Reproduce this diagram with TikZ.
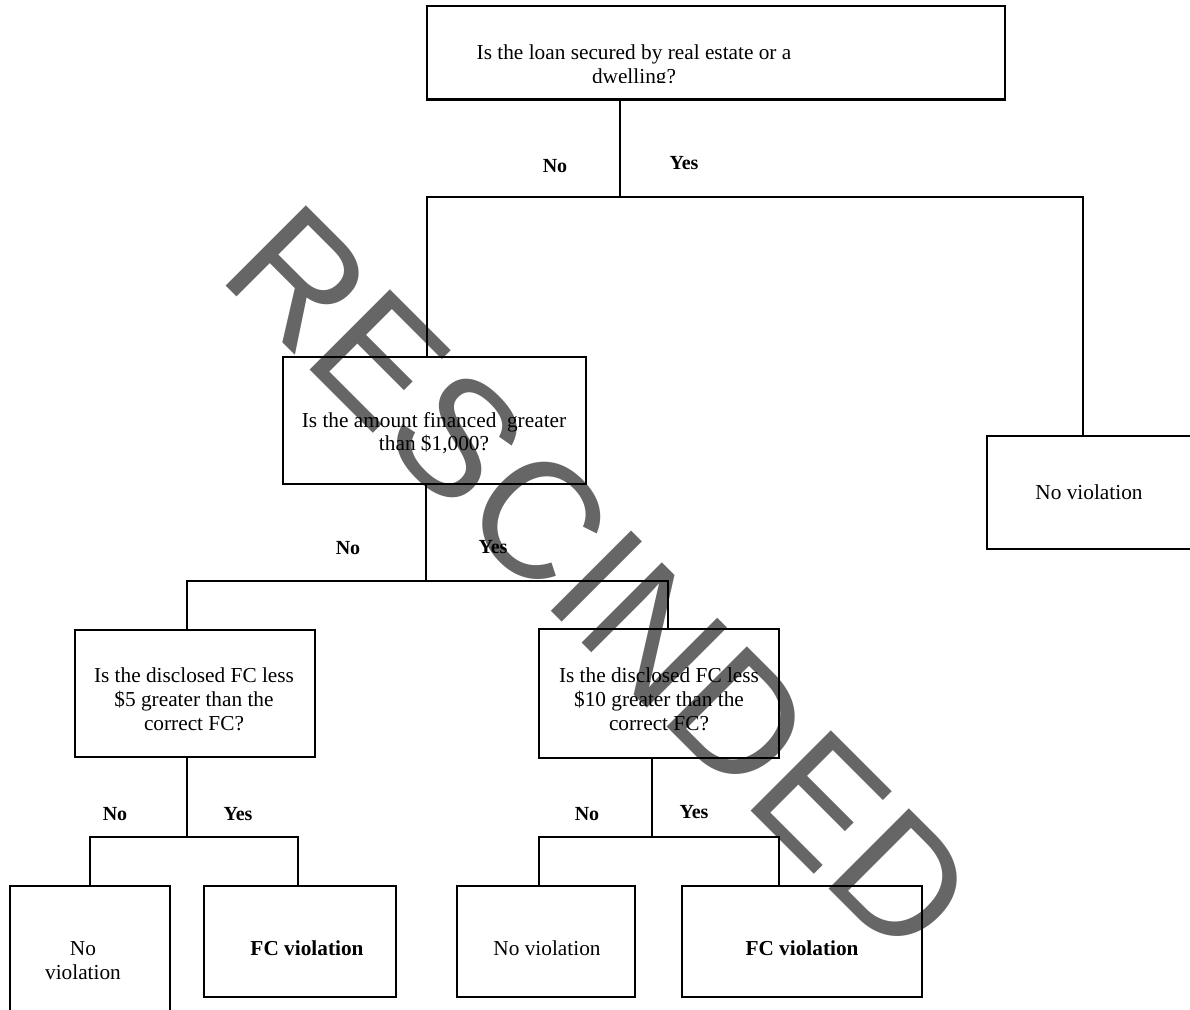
\documentclass[tikz,border=0pt]{standalone}
\usepackage{fontspec}
\setmainfont{Liberation Serif}
\newfontfamily\wmfont{Liberation Sans}
\definecolor{wmgray}{RGB}{102,102,102}
\begin{document}
\begin{tikzpicture}[x=1pt,y=-1pt,
  box/.style={draw, line width=2.1pt, inner sep=0pt},
  txt/.style={inner sep=0pt, align=center, font=\fontsize{21.3}{24}\selectfont},
  btxt/.style={inner sep=0pt, align=center, font=\bfseries\fontsize{21.3}{24}\selectfont},
  lbl/.style={inner sep=0pt, font=\bfseries\fontsize{20}{24}\selectfont},
  conn/.style={line width=1.8pt},
  wm/.style={inner sep=0pt, rotate=-45, text=wmgray, font=\wmfont\fontsize{165}{165}\selectfont}]
\useasboundingbox (0,0) rectangle (1190,1009);

% watermark
\node[wm] (wmk) at (600,580) {RESCINDED};

% boxes
\node[box, minimum width=578pt, minimum height=93.5pt] (q1) at (716,52.75) {};
\node[box, minimum width=303pt, minimum height=127pt] (q2) at (434.5,420.5) {};
\node[box, minimum width=205pt, minimum height=113pt] (r1) at (1089.5,492.5) {};
\node[box, minimum width=240pt, minimum height=127.5pt] (q3) at (195,693.5) {};
\node[box, minimum width=240pt, minimum height=128.5pt] (q4) at (659,693.5) {};
\node[box, minimum width=160pt, minimum height=126pt] (r2) at (90,949) {};
\node[box, minimum width=192pt, minimum height=111pt] (r3) at (300,941.5) {};
\node[box, minimum width=178pt, minimum height=111pt] (r4) at (546,941.5) {};
\node[box, minimum width=240pt, minimum height=111pt] (r5) at (802,941.5) {};

% texts
\begin{scope}
\clip (430,8) rectangle (1000,82);
\node[txt] (q1t) at (634,66) {Is the loan secured by real estate or a\\dwelling?};
\end{scope}
\node[txt, font=\fontsize{21.3}{23}\selectfont] (q2t) at (434,433.5) {Is the amount financed\ \ greater\\than \$1,000?};
\node[txt] (r1t) at (1089,492) {No violation};
\node[txt] (q3t) at (194,699) {Is the disclosed FC less\\\$5 greater than the\\correct FC?};
\node[txt] (q4t) at (659,699) {Is the disclosed FC less\\\$10 greater than the\\correct FC?};
\node[txt] (r2t) at (83,961) {No\\violation};
\node[btxt] (r3t) at (307,948) {FC violation};
\node[txt] (r4t) at (547,948) {No violation};
\node[btxt] (r5t) at (802,948) {FC violation};

% labels
\node[lbl] (l1n) at (555,166) {No};
\node[lbl] (l1y) at (684,163) {Yes};
\node[lbl] (l2n) at (348,548) {No};
\node[lbl] (l2y) at (493,547) {Yes};
\node[lbl] (l3n) at (115,814) {No};
\node[lbl] (l3y) at (238,814) {Yes};
\node[lbl] (l4n) at (587,814) {No};
\node[lbl] (l4y) at (694,812) {Yes};

% junctions
\coordinate (j1) at (620,197);
\coordinate (j1l) at (427,197);
\coordinate (j1r) at (1083,197);
\coordinate (j2) at (426,581);
\coordinate (j2l) at (187,581);
\coordinate (j2r) at (668,581);
\coordinate (j3) at (187,837);
\coordinate (j3l) at (90,837);
\coordinate (j3r) at (298,837);
\coordinate (j4) at (652,837);
\coordinate (j4l) at (539,837);
\coordinate (j4r) at (779,837);

% connectors
\draw[conn] (j1 |- q1.south) -- (j1);
\draw[conn] (j1l |- q2.north) -- (j1l) -- (j1r) -- (j1r |- r1.north);
\draw[conn] (j2 |- q2.south) -- (j2);
\draw[conn] (j2l |- q3.north) -- (j2l) -- (j2r) -- (j2r |- q4.north);
\draw[conn] (j3 |- q3.south) -- (j3);
\draw[conn] (j3l |- r2.north) -- (j3l) -- (j3r) -- (j3r |- r3.north);
\draw[conn] (j4 |- q4.south) -- (j4);
\draw[conn] (j4l |- r4.north) -- (j4l) -- (j4r) -- (j4r |- r5.north);
\end{tikzpicture}
\end{document}
